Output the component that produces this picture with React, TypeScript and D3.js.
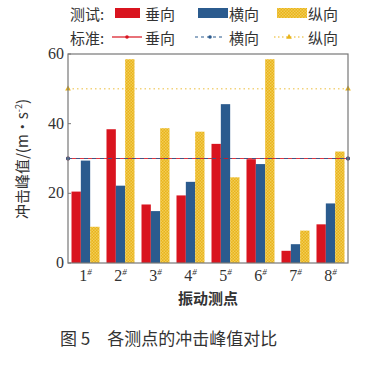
import React from "react";
import * as d3 from "d3";

const categories = ["1", "2", "3", "4", "5", "6", "7", "8"];
const seriesNames = ["垂向", "横向", "纵向"];
const vertical = [20.5, 38.4, 16.8, 19.4, 34.2, 29.8, 3.5, 11.1];
const horizontal = [29.4, 22.2, 14.9, 23.3, 45.6, 28.4, 5.4, 17.1];
const longitudinal = [10.4, 58.5, 38.7, 37.7, 24.6, 58.5, 9.3, 32.0];
const standards = [30, 30, 50];
const yTicks = [0, 20, 40, 60];

const colors = ["#d9141f", "#2b5b8e", "#e9b41a"];
const serif = "'Liberation Serif','Noto Sans CJK SC',serif";
const cjk = "'Noto Sans CJK SC',sans-serif";

export default function App() {
  const W = 382, H = 379;
  const left = 68, right = 348, top = 54, bottom = 263;
  const x0 = d3.scaleBand<string>().domain(categories).range([left, right]).paddingInner(0.2).paddingOuter(0.1);
  const x1 = d3.scaleBand<number>().domain([0, 1, 2]).range([0, x0.bandwidth()]);
  const y = d3.scaleLinear().domain([0, 60]).range([bottom, top]);
  const series = [vertical, horizontal, longitudinal];

  return (
    <svg width={W} height={H} style={{ position: "absolute", left: 0, top: 0, background: "#fff" }}>
      <defs>
        <pattern id="chk" width="3" height="3" patternUnits="userSpaceOnUse">
          <rect width="3" height="3" fill="#e9b41a" />
          <rect width="1.5" height="1.5" fill="#f2cc55" />
          <rect x="1.5" y="1.5" width="1.5" height="1.5" fill="#f2cc55" />
        </pattern>
      </defs>
      {/* legend */}
      <g fontFamily={cjk} fontSize={15} fill="#333">
        <text x={70} y={20}>测试:</text>
        <text x={70} y={44}>标准:</text>
        {seriesNames.map((n, i) => {
          const sx = [115, 198, 277][i];
          const tx = [145, 229, 308][i];
          return (
            <g key={n}>
              <rect x={sx} y={8} width={i === 0 ? 25 : 30} height={10} fill={i === 2 ? "url(#chk)" : colors[i]} />
              <text x={tx} y={20}>{n}</text>
              <line x1={sx - 3} x2={sx + 27} y1={37} y2={37} stroke={colors[i]} strokeWidth={1.2}
                strokeDasharray={i === 0 ? undefined : i === 1 ? "3,3" : "1.5,2.5"} />
              {i === 2 ? (
                <path d={d3.symbol(d3.symbolTriangle, 14)() || ""} transform={`translate(${sx + 12},37)`} fill={colors[i]} />
              ) : (
                <circle cx={sx + 12} cy={37} r={1.8} fill={colors[i]} />
              )}
              <text x={tx} y={44}>{n}</text>
            </g>
          );
        })}
      </g>
      {/* bars */}
      {categories.map((c, ci) => (
        <g key={c}>
          {series.map((s, si) => (
            <rect key={si} x={(x0(c) || 0) + (x1(si) || 0)} y={y(s[ci])} width={x1.bandwidth()}
              height={bottom - y(s[ci])} fill={si === 2 ? "url(#chk)" : colors[si]} />
          ))}
        </g>
      ))}
      {/* standard lines */}
      {[2, 0, 1].map((i) => (
        <g key={i}>
          <line x1={left} x2={right} y1={y(standards[i])} y2={y(standards[i])} stroke={colors[i]}
            strokeWidth={1} strokeDasharray={i === 0 ? undefined : i === 1 ? "4,4" : "1.5,3"} opacity={0.85} />
          {[left, right].map((px) =>
            i === 2 ? (
              <path key={px} d={d3.symbol(d3.symbolTriangle, 14)() || ""} transform={`translate(${px},${y(standards[i])})`} fill={colors[i]} />
            ) : (
              <circle key={px} cx={px} cy={y(standards[i])} r={2} fill={colors[i]} />
            )
          )}
        </g>
      ))}
      {/* frame */}
      <rect x={left} y={top} width={right - left} height={bottom - top} fill="none" stroke="#777" strokeWidth={1.2} />
      {/* y ticks */}
      <g fontFamily={serif} fontSize={16} fill="#333">
        {yTicks.map((t) => (
          <g key={t}>
            <line x1={left} x2={left + 3} y1={y(t)} y2={y(t)} stroke="#777" />
            <text x={left - 4} y={y(t) + 5} textAnchor="end">{t}</text>
          </g>
        ))}
        {categories.map((c) => (
          <text key={c} x={(x0(c) || 0) + x0.bandwidth() / 2} y={281} textAnchor="middle">
            {c}
            <tspan fontSize={9} dy={-6} fontStyle="italic">#</tspan>
          </text>
        ))}
      </g>
      <text x={208} y={304} textAnchor="middle" fontFamily={cjk} fontSize={15} fontWeight="bold" fill="#333">振动测点</text>
      <text transform="translate(28,159) rotate(-90)" textAnchor="middle" fontFamily={cjk} fontSize={15} fill="#333">
        冲击峰值/(m·s<tspan fontSize={9} dy={-6}>-2</tspan><tspan dy={6}>)</tspan>
      </text>
      <text x={60} y={345} fontFamily={cjk} fontSize={17} fill="#333">图 5　各测点的冲击峰值对比</text>
    </svg>
  );
}
